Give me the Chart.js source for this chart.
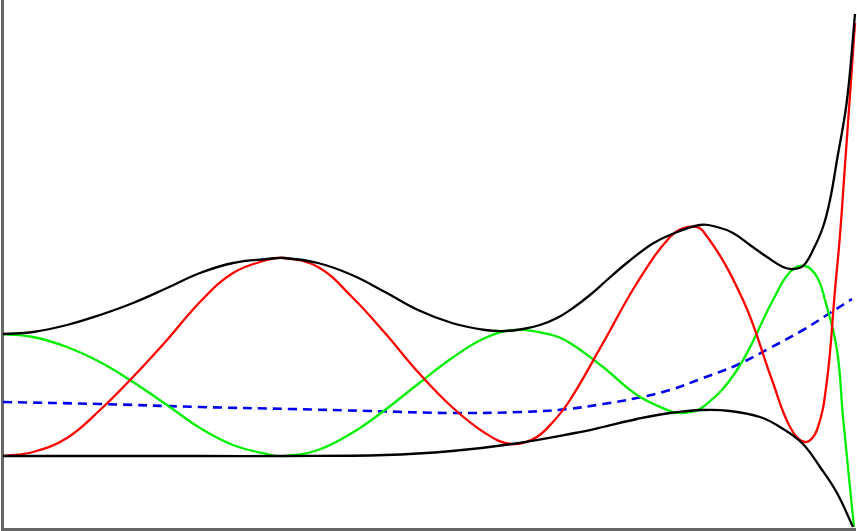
<!DOCTYPE html>
<html lang="en">
<head>
    <meta charset="UTF-8">
    <title>Curves</title>
    <style>
        html, body {
            margin: 0;
            padding: 0;
            background: #fff;
        }
        #chart-wrap {
            width: 857px;
            height: 531px;
        }
    </style>
</head>
<body>
    <div id="chart-wrap">
        <canvas id="curves-chart"></canvas>
    </div>

    <script src="https://cdn.jsdelivr.net/npm/chart.js"></script>
    <script>
        // values
        const upperX = [1, 31, 65, 98, 131, 165, 198, 231, 265, 282, 316, 350, 383, 416, 450, 483, 503, 521, 538, 555, 571, 588, 605, 626, 650, 668, 698, 715, 731, 748, 765, 781, 791, 801, 811, 821, 828, 835, 845, 853];
        const upperY = [195, 197, 204, 214, 226, 241, 256, 266, 270, 271, 266, 254, 237, 219, 206, 199, 198, 200, 204, 211, 221, 234, 249, 267, 285, 294, 304, 302, 296, 284, 272, 262, 260, 263, 279, 302, 329, 369, 429, 515];

        const lowerX = [1, 98, 198, 283, 383, 450, 510, 573, 601, 635, 668, 701, 728, 758, 778, 800, 818, 835, 851];
        const lowerY = [73, 73, 73, 73, 74, 78, 85, 96, 102, 110, 116, 119, 118, 112, 102, 86, 62, 36, 2];

        const redX = [1, 31, 65, 98, 131, 165, 198, 231, 265, 282, 316, 350, 383, 416, 450, 483, 509, 533, 550, 568, 601, 635, 668, 686, 701, 741, 770, 788, 803, 815, 825, 833, 838, 843, 848, 853];
        const redY = [73, 77, 91, 119, 152, 189, 227, 256, 269, 271, 262, 232, 196, 157, 122, 96, 85, 91, 106, 129, 186, 246, 292, 302, 298, 229, 149, 102, 87, 99, 149, 239, 294, 364, 434, 506];

        const greenX = [1, 31, 65, 98, 131, 165, 198, 231, 265, 282, 316, 350, 383, 416, 450, 483, 513, 550, 568, 601, 635, 668, 681, 701, 735, 771, 788, 803, 815, 823, 835, 841, 852];
        const greenY = [195, 192, 182, 167, 147, 124, 101, 84, 75, 73, 79, 96, 119, 145, 171, 191, 199, 194, 186, 162, 134, 118, 116, 122, 159, 229, 257, 263, 252, 229, 179, 112, 2];

        const blueX = [1, 98, 198, 288, 368, 450, 518, 566, 601, 635, 668, 701, 735, 768, 801, 828, 850];
        const blueY = [127, 125, 122, 120, 118, 116, 117, 120, 125, 131, 139, 151, 164, 181, 199, 216, 230];

        function toPoints(xs, ys) {
            return xs.map((x, i) => ({ x: x, y: ys[i] }));
        }

        function lineSet(xs, ys, color, width, dash) {
            return {
                data: toPoints(xs, ys),
                borderColor: color,
                borderWidth: width,
                borderDash: dash || [],
                pointRadius: 0,
                fill: false,
                tension: 0.4,
                clip: false
            };
        }

        const ctx = document.getElementById('curves-chart').getContext('2d');
        new Chart(ctx, {
            type: 'line',
            data: {
                datasets: [
                    lineSet(upperX, upperY, '#000000', 2.3),
                    lineSet(lowerX, lowerY, '#000000', 2.3),
                    lineSet(redX, redY, '#ff0000', 2.3),
                    lineSet(greenX, greenY, '#00ee00', 2.3),
                    lineSet(blueX, blueY, '#0000ee', 2.6, [9, 6])
                ]
            },
            options: {
                responsive: true,
                maintainAspectRatio: false,
                animation: false,
                layout: {
                    padding: { left: 2, right: 2, top: 0, bottom: 2 }
                },
                plugins: {
                    legend: { display: false },
                    tooltip: { enabled: false }
                },
                scales: {
                    x: {
                        type: 'linear',
                        min: 0,
                        max: 853,
                        ticks: { display: false },
                        grid: { display: false, drawTicks: false },
                        border: { display: true, color: '#666666', width: 3 }
                    },
                    y: {
                        type: 'linear',
                        min: 0,
                        max: 529,
                        ticks: { display: false },
                        grid: { display: false, drawTicks: false },
                        border: { display: true, color: '#666666', width: 3 }
                    }
                }
            }
        });
    </script>
</body>
</html>
